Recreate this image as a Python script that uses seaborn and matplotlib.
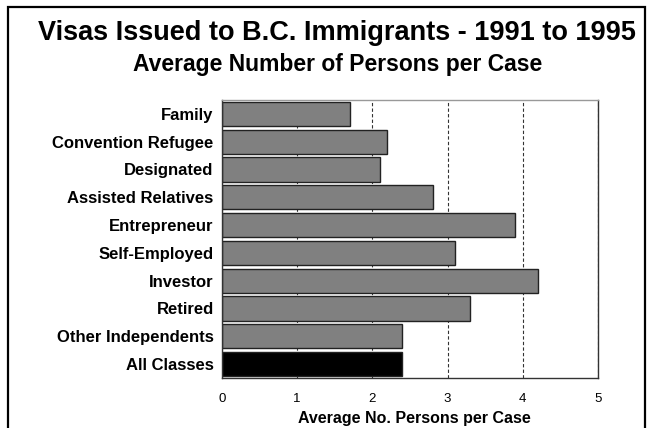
import matplotlib
matplotlib.use("Agg")
import matplotlib.pyplot as plt
import seaborn as sns
import pandas as pd
from matplotlib.patches import Rectangle

categories = ["Family", "Convention Refugee", "Designated", "Assisted Relatives",
              "Entrepreneur", "Self-Employed", "Investor", "Retired",
              "Other Independents", "All Classes"]
values = [1.7, 2.2, 2.1, 2.8, 3.9, 3.1, 4.2, 3.3, 2.4, 2.4]
bar_colors = ["#808080"] * 9 + ["#000000"]
x_ticks = [0, 1, 2, 3, 4, 5]

title = "Visas Issued to B.C. Immigrants - 1991 to 1995"
subtitle = "Average Number of Persons per Case"
xlabel = "Average No. Persons per Case"

sns.set_style("white")
plt.rcParams['font.family'] = ['Liberation Sans', 'DejaVu Sans']
plt.rcParams['text.color'] = 'black'
plt.rcParams['axes.labelcolor'] = 'black'
plt.rcParams['xtick.color'] = 'black'
plt.rcParams['ytick.color'] = 'black'

df = pd.DataFrame({"cat": categories, "val": values})

fig = plt.figure(figsize=(6.5, 4.28), dpi=100)
ax = fig.add_axes([222/650, 1 - 378/428, (598-222)/650, (378-100)/428])

sns.barplot(data=df, x="val", y="cat", hue="cat", palette=bar_colors,
            order=categories, hue_order=categories, legend=False,
            orient="h", width=0.87, edgecolor="#222222", linewidth=1.0,
            saturation=1, ax=ax)

ax.set_xlim(0, 5)
ax.set_xticks(x_ticks)
ax.set_xticklabels([str(t) for t in x_ticks], fontsize=9.5)
ax.set_ylim(9.5, -0.5)
ax.set_axisbelow(True)
ax.xaxis.grid(True, linestyle=(0, (3, 2)), color="#333333", linewidth=0.8)
ax.yaxis.grid(False)
ax.tick_params(axis="x", length=0, pad=11)
ax.tick_params(axis="y", length=0, pad=6)
for lab in ax.get_yticklabels():
    lab.set_fontweight("bold")
    lab.set_fontsize(12)
ax.set_ylabel("")
ax.set_xlabel(xlabel, fontsize=11.5, fontweight="bold")
ax.xaxis.label.set_verticalalignment("baseline")
ax.xaxis.set_label_coords((414 - 222) / (598 - 222), (378 - 423) / (378 - 100))
for side, sp in ax.spines.items():
    sp.set_visible(True)
    sp.set_linewidth(1.0)
    sp.set_color("#333333")
ax.spines["top"].set_color("#999999")

fig.text(336.5/650, 1 - 39.5/428, title, ha="center", va="baseline",
         fontsize=19.5, fontweight="bold")
fig.text(337.5/650, 1 - 71.5/428, subtitle, ha="center", va="baseline",
         fontsize=16.5, fontweight="bold")

fig.patches.append(Rectangle((8/650, -0.05), (645-8)/650, 1.05 - 7/428,
                             transform=fig.transFigure, fill=False,
                             edgecolor="black", linewidth=1.6))

fig.savefig("out.png", dpi=100)
